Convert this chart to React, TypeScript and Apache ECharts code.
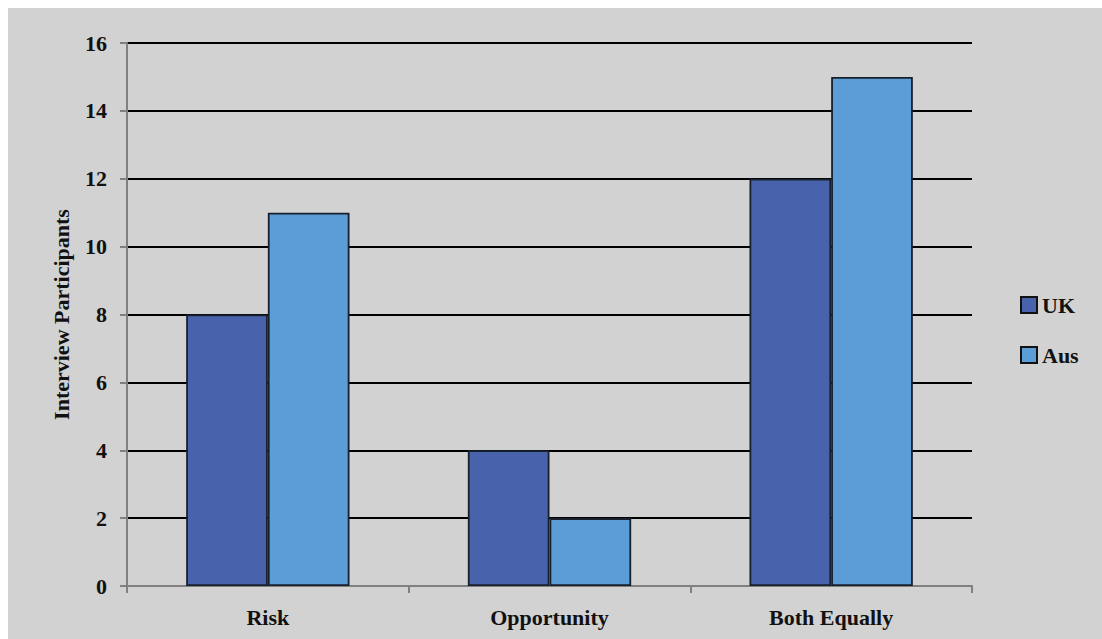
import React, { useEffect, useRef } from "react";
import * as echarts from "echarts";

const categories = ["Risk", "Opportunity", "Both Equally"];
const ukValues = [8, 4, 12];
const ausValues = [11, 2, 15];
const yTicks = { min: 0, max: 16, interval: 2 };

const FONT = "Liberation Serif";

export default function App() {
  const ref = useRef<HTMLDivElement>(null);

  useEffect(() => {
    if (!ref.current) return;
    const chart = echarts.init(ref.current, null, { renderer: "svg" });
    const barBorder = { borderColor: "#18202e", borderWidth: 1.8 };
    chart.setOption({
      animation: false,
      backgroundColor: "#d2d2d2",
      textStyle: { fontFamily: FONT, fontWeight: "bold", color: "#111" },
      grid: { left: 119, top: 35, right: 130, bottom: 53, containLabel: false },
      legend: {
        orient: "vertical",
        left: 1012,
        top: 286,
        padding: 0,
        itemWidth: 16,
        itemHeight: 16,
        itemGap: 28,
        icon: "rect",
        itemStyle: { borderColor: "#111", borderWidth: 2 },
        textStyle: { fontFamily: FONT, fontWeight: "bold", fontSize: 22, color: "#111" },
        data: ["UK", "Aus"],
      },
      xAxis: {
        type: "category",
        data: categories,
        axisLine: { lineStyle: { color: "#808080", width: 2 } },
        axisTick: { show: true, length: 7, lineStyle: { color: "#808080", width: 2 } },
        axisLabel: { fontFamily: FONT, fontWeight: "bold", fontSize: 22, color: "#111", margin: 20 },
        splitLine: { show: false },
      },
      yAxis: {
        type: "value",
        min: yTicks.min,
        max: yTicks.max,
        interval: yTicks.interval,
        name: "Interview Participants",
        nameLocation: "middle",
        nameGap: 55,
        nameTextStyle: { fontFamily: FONT, fontWeight: "bold", fontSize: 22, color: "#111" },
        axisLine: { show: true, lineStyle: { color: "#808080", width: 2 } },
        axisTick: { show: true, length: 7, lineStyle: { color: "#808080", width: 2 } },
        axisLabel: { fontFamily: FONT, fontWeight: "bold", fontSize: 22, color: "#111", margin: 20 },
        splitLine: { show: true, showMinLine: false, lineStyle: { color: "#000", width: 2 } },
      },
      series: [
        {
          name: "UK",
          type: "bar",
          data: ukValues,
          barGap: "0%",
          barCategoryGap: "42%",
          itemStyle: { color: "#4863ab", ...barBorder },
        },
        {
          name: "Aus",
          type: "bar",
          data: ausValues,
          barGap: "0%",
          barCategoryGap: "42%",
          itemStyle: { color: "#5b9dd6", ...barBorder },
        },
      ],
    });
    return () => chart.dispose();
  }, []);

  return (
    <div
      ref={ref}
      style={{ position: "fixed", left: 8, top: 8, width: 1094, height: 631 }}
    />
  );
}
